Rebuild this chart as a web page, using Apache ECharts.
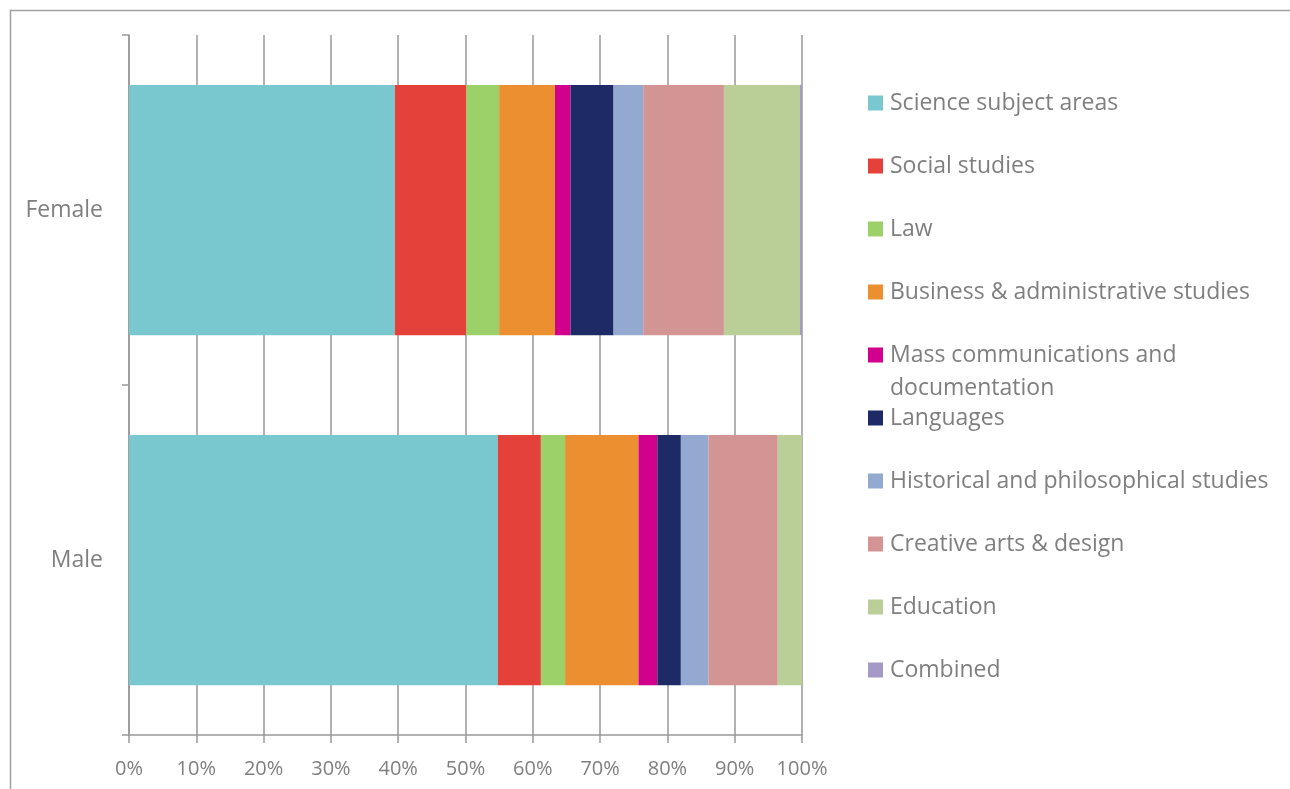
<!DOCTYPE html>
<html>
<head>
<meta charset="utf-8">
<script src="https://cdn.jsdelivr.net/npm/echarts@6/dist/echarts.min.js"></script>
<style>
html,body{margin:0;padding:0;background:#fff;}
#chart{width:1290px;height:789px;}
</style>
</head>
<body>
<div id="chart"></div>
<script>
const categories = ['Male', 'Female'];
const seriesNames = [
  'Science subject areas',
  'Social studies',
  'Law',
  'Business & administrative studies',
  'Mass communications and documentation',
  'Languages',
  'Historical and philosophical studies',
  'Creative arts & design',
  'Education',
  'Combined'
];
// values: [Male, Female] in percent
const science   = [54.8, 39.5];
const social    = [6.4, 10.6];
const law       = [3.6, 4.9];
const business  = [10.9, 8.3];
const masscomm  = [2.8, 2.3];
const languages = [3.5, 6.4];
const historical= [4.1, 4.4];
const creative  = [10.3, 12.0];
const education = [3.6, 11.3];
const combined  = [0.0, 0.3];
const xTicks = ['0%','10%','20%','30%','40%','50%','60%','70%','80%','90%','100%'];

const seriesValues = [science, social, law, business, masscomm, languages, historical, creative, education, combined];
const colors = ['#79C8CF','#E5413B','#9CD16A','#EC8F31','#D1008D','#1E2A66','#94A9CF','#D29594','#BACE98','#A599C7'];

const chart = echarts.init(document.getElementById('chart'), null, {renderer:'canvas'});
const font = '"Open Sans", "Noto Sans", sans-serif';
const textColor = '#7f7f7f';

const legendTops = [102,165,228,291,354,417,480,543,606,669];
const legends = seriesNames.map((n,i)=>({
  show:true,
  orient:'vertical',
  left: 864,
  top: legendTops[i]-14,
  itemWidth:15,
  itemHeight:15,
  icon:'rect',
  itemGap:0,
  padding:[2,0,2,4],
  selectedMode:false,
  data:[n],
  formatter: function(name){ return name === 'Mass communications and documentation' ? 'Mass communications and' : name; },
  textStyle:{fontFamily:font, fontSize:23, color:textColor, padding:[0,0,0,2], lineHeight:26}
}));

chart.setOption({
  animation:false,
  color: colors,
  textStyle:{fontFamily:font},
  graphic:[
    {type:'rect', shape:{x:10.5,y:10.5,width:1300,height:800}, style:{fill:'none', stroke:'#a0a0a0', lineWidth:1.5}, silent:true, z:-10},
    {type:'text', left:890, top:377, style:{text:'documentation', font:'23px "Open Sans", sans-serif', fill:textColor}}
  ],
  legend: legends,
  grid:{left:129, right:488, top:35, bottom:54, containLabel:false},
  xAxis:{
    type:'value', min:0, max:100, interval:10,
    axisLine:{show:true, lineStyle:{color:'#999', width:1.5}},
    axisTick:{show:true, length:8, lineStyle:{color:'#999', width:1.5}},
    splitLine:{show:true, lineStyle:{color:'#999', width:1.5}},
    axisLabel:{margin:24, fontSize:20, color:textColor, fontFamily:font,
      formatter:function(v){ return xTicks[Math.round(v/10)]; }}
  },
  yAxis:{
    type:'category', data:categories,
    axisLine:{show:true, lineStyle:{color:'#999', width:1.5}},
    axisTick:{show:true, length:7, lineStyle:{color:'#999', width:1.5}},
    axisLabel:{margin:26, fontSize:23, color:textColor, fontFamily:font}
  },
  series: seriesNames.map((n,i)=>({
    name:n, type:'bar', stack:'total', barWidth:'71.5%',
    data: seriesValues[i],
    itemStyle:{color:colors[i]},
    emphasis:{disabled:true}
  }))
});
</script>
</body>
</html>
